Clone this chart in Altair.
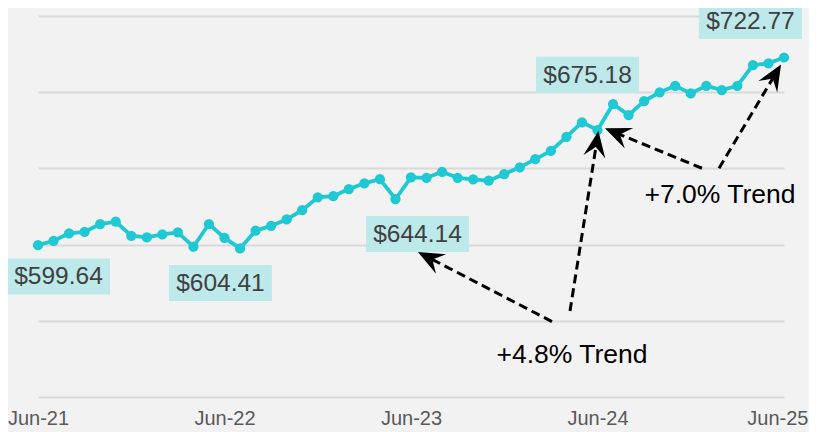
import math
import altair as alt
import pandas as pd

# ---------------- data ----------------
tick_labels = ["Jun-21", "Jun-22", "Jun-23", "Jun-24", "Jun-25"]
values = [599.64, 602.5, 607.3, 608.4, 613.5, 615.0, 605.8, 604.7, 606.7, 608.0,
          598.6, 613.5, 604.41, 597.5, 609.1, 612.3, 616.5, 622.6, 631.0, 631.8,
          636.4, 640.2, 643.0, 629.9, 644.14, 643.8, 647.8, 643.8, 642.8, 641.9,
          646.3, 650.7, 656.1, 661.5, 670.7, 680.2, 675.18, 692.2, 685.0, 694.2,
          699.9, 704.2, 699.2, 704.2, 701.4, 704.2, 717.8, 718.9, 722.77]
months = list(range(len(values)))

# yearly value call-outs (month index of the value, and where the box sits)
label_months = [0, 12, 24, 36, 48]
label_pos_x = [1.32, 11.74, 24.42, 35.36, 45.84]
label_pos_y = [579.1, 574.8, 607.0, 711.5, 746.7]

# trend annotations
trend_text = ["+4.8% Trend", "+7.0% Trend"]
trend_x = [34.36, 43.88]
trend_y = [527.9, 633.2]

arrow_tail_x = [33.07, 34.23, 42.72, 43.82]
arrow_tail_y = [549.5, 556.4, 650.1, 650.1]
arrow_tip_x = [24.45, 36.06, 36.48, 47.81]
arrow_tip_y = [595.1, 674.5, 676.3, 718.2]

# ---------------- layout ----------------
W, H = 746, 381
X_DOM = [0, 48]
Y_DOM = [500, 750]
PPM = W / (X_DOM[1] - X_DOM[0])
PPU = H / (Y_DOM[1] - Y_DOM[0])

LINE_COLOR = "#1fc9d4"
BOX_COLOR = "#bde9eb"
FONT = "Liberation Sans"

xs = alt.Scale(domain=X_DOM, nice=False, zero=False)
ys = alt.Scale(domain=Y_DOM, nice=False, zero=False)

tick_vals = [0, 12, 24, 36, 48]
label_expr = "[" + ",".join("'%s'" % t for t in tick_labels) + "][round(datum.value / 12)]"
last_test = "datum.value == %d" % tick_vals[-1]

X_AXIS = alt.Axis(values=tick_vals, labelExpr=label_expr,
                  ticks=False, domain=False, grid=False, title=None,
                  labelFontSize=20, labelColor="#595959", labelFont=FONT,
                  labelPadding=11, labelFlush=False, labelOverlap=False,
                  labelAlign={"condition": {"test": last_test, "value": "right"}, "value": "center"},
                  labelOffset={"condition": {"test": last_test, "value": 24}, "value": 0})
Y_AXIS = alt.Axis(values=[500, 550, 600, 650, 700, 750], labels=False,
                  ticks=False, domain=False, grid=True, title=None,
                  gridColor="#d9d9d9", gridWidth=2)


def X(f):
    return alt.X(f, scale=xs, axis=X_AXIS, title=None)


def Y(f):
    return alt.Y(f, scale=ys, axis=Y_AXIS, title=None)


df = pd.DataFrame({"x": months, "y": values})

line = alt.Chart(df).mark_line(color=LINE_COLOR, strokeWidth=3.8).encode(x=X("x:Q"), y=Y("y:Q"))
pts = alt.Chart(df).mark_circle(color=LINE_COLOR, size=105, opacity=1).encode(x=X("x:Q"), y=Y("y:Q"))

lab_df = pd.DataFrame({
    "x": label_pos_x,
    "y": label_pos_y,
    "t": ["$%.2f" % values[m] for m in label_months],
})
boxes = alt.Chart(lab_df).mark_point(
    shape="M-2.86,-1 L2.86,-1 L2.86,1 L-2.86,1 Z", size=1296, filled=True,
    fill=BOX_COLOR, opacity=1, strokeWidth=0
).encode(x=X("x:Q"), y=Y("y:Q"))
lab_txt = alt.Chart(lab_df).mark_text(
    font=FONT, fontSize=24.5, color="#404040", align="center", baseline="middle", dy=1
).encode(x=X("x:Q"), y=Y("y:Q"), text="t:N")

# arrows
rows = []
for tx, ty, hx, hy in zip(arrow_tail_x, arrow_tail_y, arrow_tip_x, arrow_tip_y):
    dxp = (hx - tx) * PPM
    dyp = -(hy - ty) * PPU
    L = math.hypot(dxp, dyp)
    ux, uy = dxp / L, dyp / L
    back = 10.0
    ex = hx - back * ux / PPM
    ey = hy + back * uy / PPU
    ang = math.degrees(math.atan2(ux, -uy)) % 360
    rows.append({"x": tx, "y": ty, "x2": ex, "y2": ey, "hx": hx, "hy": hy, "a": ang})
arr_df = pd.DataFrame(rows)

arrow_lines = alt.Chart(arr_df).mark_rule(
    color="black", strokeWidth=3, strokeDash=[9, 5]
).encode(x=X("x:Q"), y=Y("y:Q"), x2="x2:Q", y2="y2:Q")
arrow_heads = alt.Chart(arr_df).mark_point(
    shape="M0,0 L0.85,2 L0,1.25 L-0.85,2 Z", size=676, filled=True,
    fill="black", opacity=1, strokeWidth=0
).encode(x=X("hx:Q"), y=Y("hy:Q"), angle=alt.Angle("a:Q", scale=None))

tr_df = pd.DataFrame({"x": trend_x, "y": trend_y, "t": trend_text})
trend_txt = alt.Chart(tr_df).mark_text(
    font=FONT, fontSize=26.5, color="black", align="center", baseline="middle", dy=1
).encode(x=X("x:Q"), y=Y("y:Q"), text="t:N")

chart = alt.layer(line, pts, boxes, lab_txt, arrow_lines, arrow_heads, trend_txt).properties(
    width=W, height=H,
    autosize=alt.AutoSizeParams(type="none"),
    padding={"left": 30, "top": 8, "right": 25, "bottom": 36},
    background="#f2f2f2",
).configure_view(stroke=None)

chart.save("out.html", embed_options={"renderer": "svg", "actions": False})
